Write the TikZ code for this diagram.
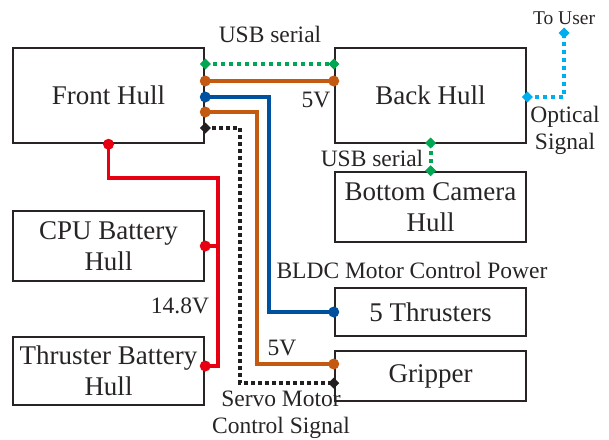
\documentclass[tikz,border=0pt]{standalone}
\usepackage{fontspec}
\setmainfont{Liberation Serif}
\usetikzlibrary{calc}
\definecolor{txt}{RGB}{40,36,37}
\definecolor{cgreen}{RGB}{0,166,81}
\definecolor{corange}{RGB}{196,89,17}
\definecolor{cblue}{RGB}{0,80,160}
\definecolor{cred}{RGB}{230,0,18}
\definecolor{clblue}{RGB}{0,174,239}
\definecolor{cblack}{RGB}{35,31,32}
\newcommand\mydiam[2]{\fill[#1] (#2) +(-5.5,0) -- +(0,-5.5) -- +(5.5,0) -- +(0,5.5) -- cycle;}
\begin{document}
\begin{tikzpicture}[x=1pt,y=-1pt,
  box/.style={draw=txt, line width=2.5pt, minimum width=191pt, inner sep=0pt, align=center, text=txt, font=\fontsize{27}{31}\selectfont},
  lab/.style={text=txt, inner sep=0pt, align=center, font=\fontsize{23.5}{27}\selectfont},
  wire/.style={line width=3.5pt},
  dotw/.style={line width=4pt, dash pattern=on 4pt off 4pt},
]
\useasboundingbox (0,0) rectangle (609,439);
% boxes
\node[box, minimum height=95pt] (front) at (108.5,95.5) {Front Hull};
\node[box, minimum height=95pt] (back) at (430.5,95.5) {Back Hull};
\node[box, minimum height=70pt] (bottom) at (430.5,207) {Bottom Camera\\Hull};
\node[box, minimum height=70pt] (cpu) at (108.5,246) {CPU Battery\\Hull};
\node[box, minimum height=68pt] (thr) at (108.5,371) {Thruster Battery\\Hull};
\node[box, minimum height=48pt] (thrust) at (430.5,312) {5 Thrusters};
\node[box, minimum height=50pt] (grip) at (430.5,376) {Gripper};
% connection points
\coordinate (fG) at (front.east |- 0,64);
\coordinate (fO) at (front.east |- 0,81);
\coordinate (fB) at (front.east |- 0,97);
\coordinate (fO2) at (front.east |- 0,112);
\coordinate (fK) at (front.east |- 0,128);
\coordinate (bG) at (back.west |- 0,64);
\coordinate (bO) at (back.west |- 0,81);
\coordinate (bOpt) at (back.east |- 0,97);
\coordinate (user) at (564,33);
\coordinate (bS) at (back.south |- 0,143);
\coordinate (cS) at (bottom.north);
\coordinate (fR) at (front.south);
\coordinate (cR) at (cpu.east);
\coordinate (tR) at (thr.east |- 0,366);
\coordinate (tB) at (thrust.west);
\coordinate (gO) at (grip.west |- 0,364);
\coordinate (gK) at (grip.west |- 0,383);
% wires
\draw[wire, cred] (fR) -- (fR |- 0,178) -| (218,366) -- (tR);
\draw[wire, cred] (cR) -- (218,0 |- cR);
\draw[dotw, cgreen] (fG) -- (bG);
\draw[wire, corange] (fO) -- (bO);
\draw[wire, cblue] (fB) -| (269,0 |- tB) -- (tB);
\draw[wire, corange] (fO2) -| (257,0 |- gO) -- (gO);
\draw[dotw, cblack, line width=3.5pt, dash pattern=on 3.5pt off 3.5pt] (fK) -| (240,0 |- gK) -- (gK);
\draw[dotw, cgreen] (bS) -- (cS);
\draw[dotw, clblue] (bOpt) -| (user);
% markers
\mydiam{cgreen}{fG}
\mydiam{cgreen}{bG}
\fill[corange] (fO) circle (5.5);
\fill[corange] (bO) circle (5.5);
\fill[cblue] (fB) circle (5.5);
\fill[corange] (fO2) circle (5.5);
\mydiam{cblack}{fK}
\fill[cred] (fR) circle (5.5);
\fill[cred] (cR) circle (5.5);
\fill[cred] (tR) circle (5.5);
\fill[cblue] (tB) circle (5.5);
\fill[corange] (gO) circle (5.5);
\mydiam{cblack}{gK}
\mydiam{cgreen}{bS}
\mydiam{cgreen}{cS}
\mydiam{clblue}{bOpt}
\mydiam{clblue}{user}
% labels
\node[lab] (l1) at (270,34) {USB serial};
\node[lab] (l2) at (316,100) {5V};
\node[lab] (l3) at (372,158) {USB serial};
\node[lab, font=\fontsize{19.5}{23}\selectfont] (l4) at (564,18) {To User};
\node[lab] (l5) at (565,130) {Optical\\Signal};
\node[lab] (l6) at (412,270) {BLDC Motor Control Power};
\node[lab] (l7) at (180,306) {14.8V};
\node[lab] (l8) at (282,348) {5V};
\node[lab] (l9) at (281,415) {Servo Motor\\Control Signal};
\end{tikzpicture}
\end{document}
